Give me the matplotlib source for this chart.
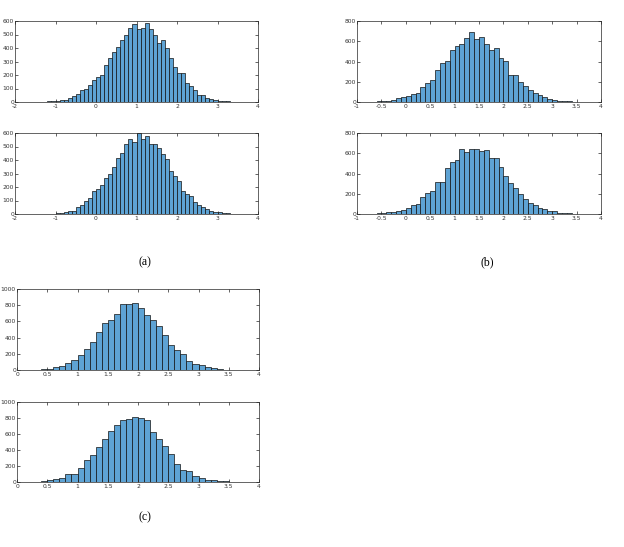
import numpy as np
import matplotlib
matplotlib.use('Agg')
import matplotlib.pyplot as plt
from matplotlib.ticker import FormatStrFormatter

bin_width = 0.1

# (a) histograms, bins start at the given value, width 0.1
a_top_start = -1.4
a_top_counts = [2, 3, 4, 5, 7, 12, 17, 27, 47, 57, 86, 96, 126, 160, 185, 200, 274, 328, 368,
                410, 460, 496, 550, 575, 540, 545, 583, 540, 495, 435, 460, 397, 323, 262, 212,
                212, 138, 121, 89, 52, 52, 27, 20, 15, 10, 7, 5, 3, 2, 2, 1, 1]
a_bot_start = -1.5
a_bot_counts = [1, 1, 1, 2, 3, 5, 10, 15, 20, 22, 50, 68, 98, 122, 168, 185, 218, 268, 298, 348,
                418, 455, 520, 555, 530, 598, 555, 577, 517, 517, 492, 448, 405, 317, 280, 243,
                168, 148, 130, 88, 68, 55, 38, 22, 15, 12, 8, 5, 3, 2, 2, 1]

# (b)
b_top_start = -0.8
b_top_counts = [2, 3, 5, 10, 13, 23, 36, 50, 62, 82, 89, 151, 188, 220, 316, 382, 408, 513, 556,
                570, 628, 688, 618, 638, 570, 513, 530, 431, 405, 266, 266, 200, 161, 118, 85,
                70, 45, 30, 20, 12, 8, 5, 3, 2, 1]
b_bot_start = -0.8
b_bot_counts = [2, 3, 5, 13, 20, 23, 27, 37, 60, 93, 103, 167, 210, 227, 320, 320, 453, 510, 533,
                640, 610, 643, 640, 620, 633, 553, 550, 467, 377, 310, 260, 195, 145, 110, 93,
                62, 45, 33, 25, 12, 8, 6, 4, 2, 1]

# (c)
c_top_start = 0.2
c_top_counts = [3, 5, 8, 15, 40, 48, 90, 120, 180, 255, 340, 465, 575, 613, 695, 815, 810, 827,
                765, 683, 620, 540, 432, 308, 247, 202, 107, 74, 62, 37, 20, 12, 5, 3, 2, 1]
c_bot_start = 0.1
c_bot_counts = [2, 3, 5, 12, 25, 35, 52, 100, 105, 178, 272, 340, 435, 533, 636, 710, 777, 785,
                815, 802, 773, 620, 537, 455, 347, 223, 153, 136, 78, 50, 29, 20, 16, 12, 5, 2, 1]

W, H = 624, 547
fig = plt.figure(figsize=(W / 100, H / 100), dpi=100)

bar_color = (0.37, 0.64, 0.83)
axis_color = '#262626'


def px_axes(x0, y0, x1, y1):
    return fig.add_axes([x0 / W, 1 - y1 / H, (x1 - x0) / W, (y1 - y0) / H])


def draw_hist(ax, start, counts, xlim, xstep, ylim, ystep):
    counts = np.array(counts)
    lefts = start + bin_width * np.arange(len(counts))
    ax.bar(lefts, counts, width=bin_width, align='edge', color=bar_color,
           edgecolor='#111111', linewidth=0.5)
    ax.set_xlim(*xlim)
    ax.set_ylim(*ylim)
    ax.set_xticks(np.arange(xlim[0], xlim[1] + 1e-9, xstep))
    ax.set_yticks(np.arange(ylim[0], ylim[1] + 1e-9, ystep))
    ax.xaxis.set_major_formatter(FormatStrFormatter('%g'))
    ax.yaxis.set_major_formatter(FormatStrFormatter('%g'))
    ax.tick_params(direction='in', length=2, width=0.5, labelsize=4.3, pad=1.5,
                   top=True, right=True, colors=axis_color, labelcolor='#333333')
    ax.tick_params(axis='y', pad=0.8)
    for s in ax.spines.values():
        s.set_linewidth(0.5)
        s.set_color(axis_color)


ax = px_axes(15, 21, 258, 102)
draw_hist(ax, a_top_start, a_top_counts, (-2, 4), 1, (0, 600), 100)
ax = px_axes(15, 133, 258, 214)
draw_hist(ax, a_bot_start, a_bot_counts, (-2, 4), 1, (0, 600), 100)

ax = px_axes(357, 21, 601, 102)
draw_hist(ax, b_top_start, b_top_counts, (-1, 4), 0.5, (0, 800), 200)
ax = px_axes(357, 133, 601, 214)
draw_hist(ax, b_bot_start, b_bot_counts, (-1, 4), 0.5, (0, 800), 200)

ax = px_axes(17, 289, 259, 370)
draw_hist(ax, c_top_start, c_top_counts, (0, 4), 0.5, (0, 1000), 200)
ax = px_axes(17, 402, 259, 482)
draw_hist(ax, c_bot_start, c_bot_counts, (0, 4), 0.5, (0, 1000), 200)

for label, x, y in [('(a)', 145, 262), ('(b)', 487, 262), ('(c)', 145, 517)]:
    fig.text(x / W, 1 - y / H, label, ha='center', va='center',
             family='Liberation Serif', fontsize=8.5)

fig.savefig('out.png', dpi=100)
